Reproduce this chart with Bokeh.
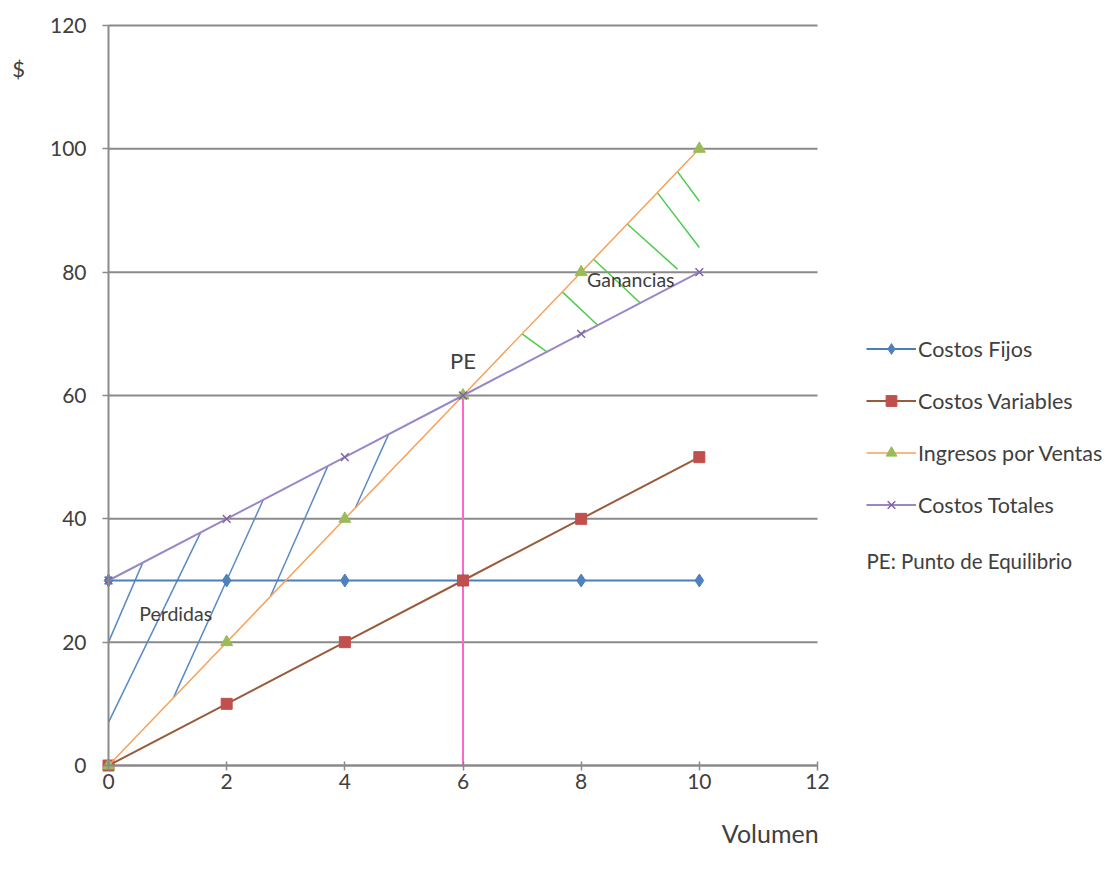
from bokeh.plotting import figure
from bokeh.models import Legend, LegendItem, Label, FixedTicker, Range1d, LinearAxis
from bokeh.embed import file_html
from bokeh.resources import INLINE

# ---- data ----
volumen = [0, 2, 4, 6, 8, 10]
costos_fijos = [30, 30, 30, 30, 30, 30]
costos_variables = [0, 10, 20, 30, 40, 50]
ingresos_ventas = [0, 20, 40, 60, 80, 100]
costos_totales = [30, 40, 50, 60, 70, 80]

pe_x = [6, 6]
pe_y = [0, 60]

# hatch lines (losses region, blue)
perd_x0 = [0.0, 0.0, 1.1, 2.74, 4.18]
perd_y0 = [7.0, 20.0, 11.0, 27.4, 41.8]
perd_x1 = [1.56, 0.58, 2.62, 3.71, 4.74]
perd_y1 = [37.8, 32.9, 43.1, 48.5, 53.7]

# hatch lines (profits region, green)
gan_x0 = [7.0, 7.68, 8.21, 8.78, 9.29, 9.63]
gan_y0 = [70.0, 76.8, 82.1, 87.8, 92.9, 96.3]
gan_x1 = [7.43, 8.28, 9.0, 9.63, 10.0, 10.0]
gan_y1 = [67.0, 71.4, 75.0, 80.5, 84.0, 91.5]

x_ticks = [0, 2, 4, 6, 8, 10, 12]
y_ticks = [0, 20, 40, 60, 80, 100, 120]
x_min, x_max = 0, 12
y_min, y_max = 0, 120

FONT = "Lato"
TXT = "#404040"
GRID = "#8a8a8a"

W, H = 1112, 872
# frame covers the whole figure; axes are pinned at x=0 / y=0
p = figure(width=W, height=H, output_backend="svg", toolbar_location=None,
           x_range=Range1d(-1.828, 16.993), y_range=Range1d(-17.35, 124.05),
           x_axis_type=None, y_axis_type=None,
           min_border_left=0, min_border_right=0, min_border_top=0, min_border_bottom=0)
p.outline_line_color = None
p.background_fill_color = "white"
p.border_fill_color = "white"
p.grid.visible = False

# horizontal gridlines between x=0 and x=12 at each y tick
p.segment(x0=[x_min] * len(y_ticks), y0=y_ticks, x1=[x_max] * len(y_ticks), y1=y_ticks,
          line_color=GRID, line_width=2)

xaxis = LinearAxis(fixed_location=0, ticker=FixedTicker(ticks=x_ticks), bounds=(x_min, x_max))
yaxis = LinearAxis(fixed_location=0, ticker=FixedTicker(ticks=y_ticks), bounds=(y_min, y_max))
for ax in (xaxis, yaxis):
    ax.axis_line_color = GRID
    ax.axis_line_width = 2
    ax.major_tick_line_color = GRID
    ax.major_tick_line_width = 1.5
    ax.minor_tick_line_color = None
    ax.major_label_text_font = FONT
    ax.major_label_text_font_size = "21px"
    ax.major_label_text_color = TXT
xaxis.major_tick_in = 4
xaxis.major_tick_out = 5
xaxis.major_label_standoff = 3
yaxis.major_tick_in = 0
yaxis.major_tick_out = 6
yaxis.major_label_standoff = 16
p.add_layout(xaxis, "below")
p.add_layout(yaxis, "left")

# hatch segments
p.segment(perd_x0, perd_y0, perd_x1, perd_y1, line_color="#5a8ac6", line_width=1.5)
p.segment(gan_x0, gan_y0, gan_x1, gan_y1, line_color="#4ccc4c", line_width=1.5)

# PE vertical line
p.line(pe_x, pe_y, line_color="#ff66cc", line_width=2)

# series
r_cf_l = p.line(volumen, costos_fijos, line_color="#4a7ebb", line_width=2)
r_cf_m = p.scatter(volumen, costos_fijos, marker="diamond", size=13, fill_color="#4f81bd", line_color="#4f81bd")

r_cv_l = p.line(volumen, costos_variables, line_color="#9a5b3a", line_width=2)
r_cv_m = p.scatter(volumen, costos_variables, marker="square", size=11, fill_color="#c0504d", line_color="#c0504d")

r_iv_l = p.line(volumen, ingresos_ventas, line_color="#f7a15a", line_width=1.5)
r_iv_m = p.scatter(volumen, ingresos_ventas, marker="triangle", size=12, fill_color="#9bbb59", line_color="#9bbb59")

r_ct_l = p.line(volumen, costos_totales, line_color="#9a87c8", line_width=2)
r_ct_m = p.scatter(volumen, costos_totales, marker="x", size=11, line_color="#8064a2", line_width=1.5)

legend = Legend(items=[
    LegendItem(label="Costos Fijos", renderers=[r_cf_l, r_cf_m]),
    LegendItem(label="Costos Variables", renderers=[r_cv_l, r_cv_m]),
    LegendItem(label="Ingresos por Ventas", renderers=[r_iv_l, r_iv_m]),
    LegendItem(label="Costos Totales", renderers=[r_ct_l, r_ct_m]),
], location=(866, H - 518), orientation="vertical")
legend.glyph_width = 50
legend.glyph_height = 27
legend.label_height = 27
legend.spacing = 25
legend.padding = 0
legend.margin = 0
legend.label_standoff = 2
legend.label_text_font = FONT
legend.label_text_font_size = "21.5px"
legend.label_text_color = TXT
legend.border_line_color = None
legend.background_fill_alpha = 0
p.add_layout(legend, "center")

# annotations
p.add_layout(Label(x=12.83, y=33.2, text="PE: Punto de Equilibrio", text_font=FONT,
                   text_font_size="20.5px", text_color=TXT, text_baseline="middle"))
p.add_layout(Label(x=6, y=63.5, text="PE", text_font=FONT, text_font_size="22px",
                   text_color=TXT, text_align="center", text_baseline="bottom"))
p.add_layout(Label(x=0.52, y=24.6, text="Perdidas", text_font=FONT, text_font_size="19.5px",
                   text_color=TXT, text_baseline="middle"))
p.add_layout(Label(x=8.1, y=78.8, text="Ganancias", text_font=FONT, text_font_size="19.5px",
                   text_color=TXT, text_baseline="middle"))
p.add_layout(Label(x=11.2, y=-11.0, text="Volumen", text_font=FONT, text_font_size="25px",
                   text_color=TXT, text_align="center", text_baseline="middle"))
p.add_layout(Label(x=-1.52, y=113, text="$", text_font=FONT, text_font_size="22px",
                   text_color=TXT, text_align="center", text_baseline="middle"))

open("out.html", "w").write(file_html(p, INLINE))
